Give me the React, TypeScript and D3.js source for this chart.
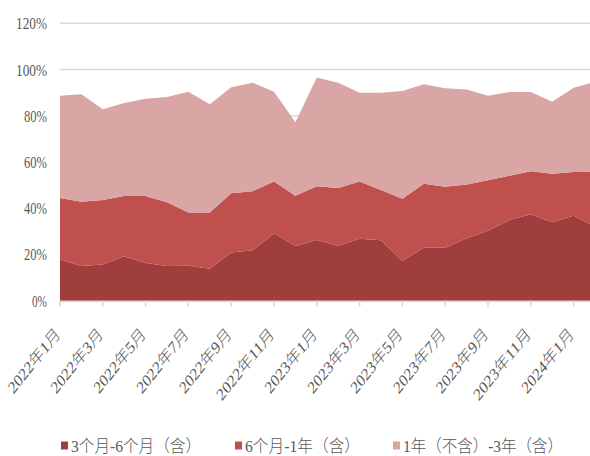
import React from 'react';
import { scaleLinear, scalePoint, stack, area } from 'd3';

// months shown on the x axis (last one is cut off by the frame)
const months = [
  '2022年1月', '2022年2月', '2022年3月', '2022年4月', '2022年5月', '2022年6月',
  '2022年7月', '2022年8月', '2022年9月', '2022年10月', '2022年11月', '2022年12月',
  '2023年1月', '2023年2月', '2023年3月', '2023年4月', '2023年5月', '2023年6月',
  '2023年7月', '2023年8月', '2023年9月', '2023年10月', '2023年11月', '2023年12月',
  '2024年1月', '2024年2月',
];

const seriesNames = ['3个月-6个月（含）', '6个月-1年（含）', '1年（不含）-3年（含）'];

// 3个月-6个月（含）, %
const shortTerm = [
  17.9, 15.0, 15.7, 19.2, 16.3, 15.0, 15.1, 13.8, 20.9, 21.8, 29.2, 23.7, 26.3,
  23.8, 26.8, 26.1, 17.2, 22.9, 22.9, 27.0, 30.3, 34.9, 37.4, 33.9, 36.8, 32.1,
];
// 6个月-1年（含）, %
const midTerm = [
  26.5, 27.8, 27.9, 26.1, 29.0, 27.6, 23.1, 24.4, 25.6, 25.6, 22.4, 21.7, 23.2,
  24.9, 24.8, 21.8, 26.9, 27.7, 26.4, 23.3, 21.8, 19.2, 18.6, 21.0, 18.9, 23.7,
];
// 1年（不含）-3年（含）, %
const longTerm = [
  44.3, 46.5, 39.2, 40.2, 42.1, 45.5, 52.2, 46.8, 45.8, 46.9, 38.8, 31.8, 47.0,
  45.6, 38.4, 42.1, 46.6, 43.0, 42.6, 41.1, 36.6, 36.2, 34.3, 31.2, 36.4, 38.8,
];

const yTicks = [0, 20, 40, 60, 80, 100, 120];

const colors = ['#9E3F3D', '#C0504D', '#D9A5A5'];
const legendX = [61, 235, 393];
const legendW = [130, 115, 160];
const font = '"Liberation Serif", "Noto Sans CJK SC", serif';
const textColor = '#595959';

// rough width of a date label: ascii digits narrow, CJK full width
const labelWidth = (s: string) =>
  [...s].reduce((w, c) => w + (c.charCodeAt(0) > 255 ? 17 : 10), 0);

const App: React.FC = () => {
  const dims = {
    width: 590,
    height: 456,
    left: 60,
    right: 595,
    top: 23.3,
    bottom: 300.7,
  };

  const x = scalePoint<string>().domain(months).range([dims.left, dims.right]);
  const y = scaleLinear().domain([0, 120]).range([dims.bottom, dims.top]);

  const rows = months.map((m, i) => ({
    month: m,
    s0: shortTerm[i],
    s1: midTerm[i],
    s2: longTerm[i],
  }));
  const layers = stack<any>().keys(['s0', 's1', 's2'])(rows);
  const areaGen = area<any>()
    .x(d => x(d.data.month) as number)
    .y0(d => y(d[0]))
    .y1(d => y(d[1]));

  const tickMonths = months.filter((_, i) => i % 2 === 0 && i < months.length - 1);

  return (
    <div style={{ position: 'absolute', left: 0, top: 0, width: dims.width, height: dims.height, overflow: 'hidden', background: '#fff' }}>
      <svg width={dims.width} height={dims.height} style={{ display: 'block' }}>
        {/* grid */}
        {yTicks.filter(t => t > 0).map(t => (
          <line key={t} x1={dims.left} x2={dims.width} y1={y(t)} y2={y(t)}
            stroke="#D9D9D9" strokeWidth={1.5} />
        ))}
        {/* stacked areas */}
        {layers.map((layer, i) => (
          <path key={i} d={areaGen(layer) as string} fill={colors[i]} />
        ))}
        {/* x axis */}
        <line x1={dims.left} x2={dims.width} y1={dims.bottom + 0.8} y2={dims.bottom + 0.8}
          stroke="#D9D9D9" strokeWidth={1.5} />
        {tickMonths.map(m => (
          <line key={m} x1={x(m)} x2={x(m)} y1={dims.bottom} y2={dims.bottom + 6}
            stroke="#D9D9D9" strokeWidth={1.5} />
        ))}
        {tickMonths.map(m => (
          <text key={m} fontFamily={font} fontWeight={300} fontSize={17} fill={textColor} textAnchor="end"
            textLength={labelWidth(m)} lengthAdjust="spacingAndGlyphs"
            transform={`translate(${(x(m) as number) + 1}, 335) scale(0.8, 1) rotate(-45)`}>
            {m}
          </text>
        ))}
        {/* y labels */}
        {yTicks.map(t => {
          const label = `${t}%`;
          return (
            <text key={t} x={47} y={y(t) + 6} fontFamily={font} fontWeight={300} fontSize={17} fill={textColor}
              textAnchor="end" textLength={label.length * 8 - 1} lengthAdjust="spacingAndGlyphs">
              {label}
            </text>
          );
        })}
        {/* legend */}
        {seriesNames.map((name, i) => (
          <g key={name} transform={`translate(${legendX[i]}, 446)`}>
            <rect x={0} y={-4.5} width={7} height={8} fill={colors[i]} />
            <text x={10} y={6} fontFamily={font} fontWeight={300} fontSize={17} fill={textColor}
              textLength={legendW[i]} lengthAdjust="spacingAndGlyphs">
              {name}
            </text>
          </g>
        ))}
      </svg>
    </div>
  );
};

export default App;
